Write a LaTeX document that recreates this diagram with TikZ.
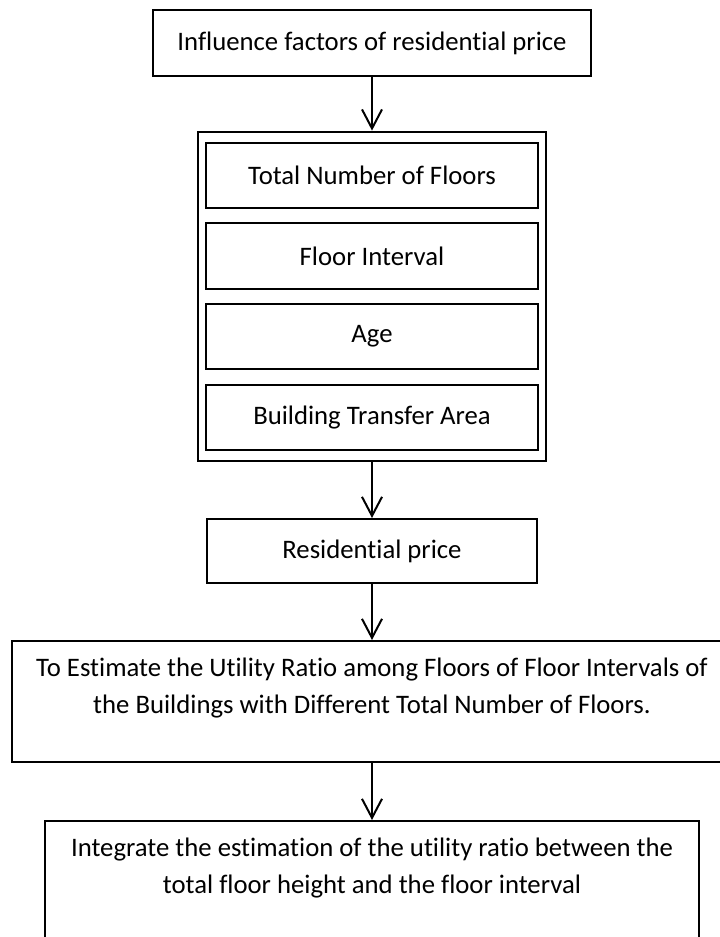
\documentclass[tikz,border=0pt]{standalone}
\usepackage{fontspec}
\setmainfont{Carlito}[Ligatures=NoCommon]
\usetikzlibrary{arrows.meta,fit}
\tikzset{
  boxnode/.style={draw, line width=0.05cm, align=center, inner sep=0pt, font=\fontsize{19}{26}\selectfont},
  itembox/.style={boxnode, minimum width=8.275cm, minimum height=1.625cm},
  flowarrow/.style={line width=0.05cm, -{Straight Barb[length=0.475cm,width=0.5cm]}}
}
\begin{document}
\begin{tikzpicture}[x=0.025cm, y=-0.025cm]
\clip (0,0) rectangle (720,937);
\node[boxnode, minimum width=10.925cm, minimum height=1.65cm] (factors) at (372,43) {Influence factors of residential price};

\node[itembox] (floors) at (372,175.5) {Total Number of Floors};
\node[itembox] (interval) at (372,256) {Floor Interval};
\node[itembox] (age) at (372,336.5) {Age};
\node[itembox] (area) at (372,417.5) {Building Transfer Area};
\node[draw, line width=0.05cm, fit=(floors)(area), inner xsep=0.19cm, inner ysep=0.26cm] (factorgroup) {};

\node[boxnode, minimum width=8.25cm, minimum height=1.6cm] (price) at (372,551) {Residential price};

\node[boxnode, minimum width=18cm, minimum height=3.025cm] (ratio) at (372,701.5) {To Estimate the Utility Ratio among Floors of Floor Intervals of\\ the Buildings with Different Total Number of Floors.\\[-11pt] \strut};

\node[boxnode, minimum width=16.35cm, minimum height=3.025cm] (integrate) at (372,881.5) {Integrate the estimation of the utility ratio between the\\ total floor height and the floor interval\\[-11pt] \strut};

\draw[flowarrow] (factors.south) -- (factorgroup.north);
\draw[flowarrow] (factorgroup.south) -- (price.north);
\draw[flowarrow] (price.south) -- (ratio.north);
\draw[flowarrow] (ratio.south) -- (integrate.north);
\end{tikzpicture}
\end{document}
